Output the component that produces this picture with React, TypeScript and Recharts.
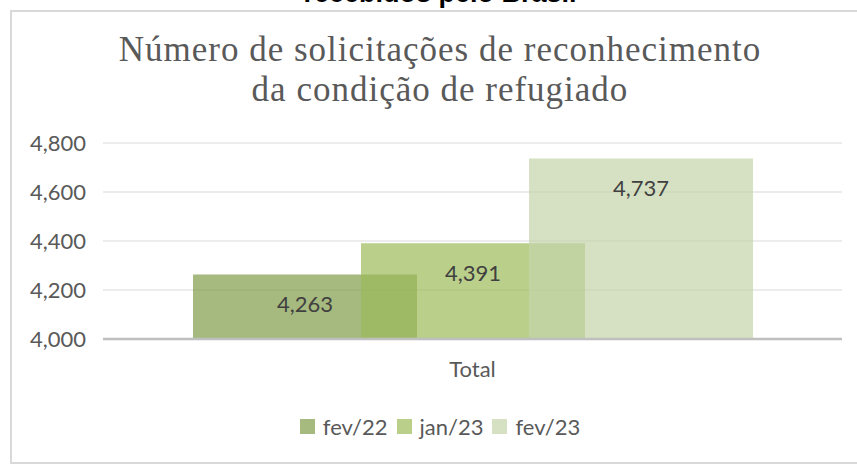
import React from 'react';
import { BarChart, Bar, XAxis, YAxis, CartesianGrid, LabelList } from 'recharts';

const categories = ['Total'];
const seriesNames = ['fev/22', 'jan/23', 'fev/23'];
const fev22Values = [4263];
const jan23Values = [4391];
const fev23Values = [4737];
const yTicks = [4000, 4200, 4400, 4600, 4800];
const seriesColors = ['#809b48', '#9bbb59', '#c4d4a9'];
const seriesKeys = ['fev22', 'jan23', 'fev23'];

const data = categories.map((c, i) => ({
  name: c,
  fev22: fev22Values[i],
  jan23: jan23Values[i],
  fev23: fev23Values[i],
}));

const fmt = (v: number) => Number(v).toLocaleString('en-US');
const FONT = 'Lato, "Noto Sans", sans-serif';

const LegendBox = () => (
  <div style={{ position: 'absolute', left: 0, top: 412, width: 880, height: 28, display: 'flex', justifyContent: 'center', alignItems: 'center', fontFamily: FONT, fontSize: 22, color: '#595959' }}>
    {seriesNames.map((n, i) => (
      <div key={n} style={{ display: 'flex', alignItems: 'center', marginRight: i < 2 ? 9 : 0 }}>
        <div style={{ width: 15, height: 15, background: seriesColors[i], opacity: 0.7, marginRight: 8 }} />
        <span>{n}</span>
      </div>
    ))}
  </div>
);

export default function App() {
  return (
    <div style={{ position: 'absolute', left: 0, top: 0, width: 857, height: 464, overflow: 'hidden', background: '#fff', fontFamily: FONT }}>
      <div style={{ position: 'absolute', left: 0, width: 880, top: -22, textAlign: 'center', fontFamily: '"Liberation Sans", Arial, sans-serif', fontWeight: 'bold', fontSize: 27, lineHeight: '30px', color: '#000' }}>
        recebidos pelo Brasil
      </div>
      <div style={{ position: 'absolute', left: 10, top: 10, width: 860, height: 450, border: '2px solid #d9d9d9', boxSizing: 'content-box' }} />
      <div style={{ position: 'absolute', left: 0, width: 880, top: 30, textAlign: 'center', fontFamily: '"Liberation Serif", serif', fontSize: 35, lineHeight: '40px', color: '#595959', letterSpacing: 1 }}>
        Número de solicitações de reconhecimento<br />da condição de refugiado
      </div>
      <div style={{ position: 'absolute', left: 0, top: 0 }}>
        <BarChart width={857} height={464} data={data} margin={{ top: 143, right: 15, bottom: 95, left: 23 }} barGap={-56} barSize={224}>
          <CartesianGrid vertical={false} stroke="#e6e6e6" strokeWidth={1.5} />
          <XAxis dataKey="name" height={30} tickLine={false} axisLine={{ stroke: '#bfbfbf', strokeWidth: 2.5 }} tickSize={0} tickMargin={22} tick={{ fill: '#595959', fontSize: 22 }} />
          <YAxis domain={[4000, 4800]} ticks={yTicks} tickFormatter={fmt} axisLine={false} tickLine={false} width={80} tickSize={0} tickMargin={17} tick={{ fill: '#595959', fontSize: 22 }} interval={0} />
          {seriesKeys.map((k, i) => (
            <Bar key={k} dataKey={k} name={seriesNames[i]} fill={seriesColors[i]} fillOpacity={0.7} isAnimationActive={false}>
              <LabelList dataKey={k} position="insideTop" offset={22} formatter={fmt} fill="#404040" fontSize={22} />
            </Bar>
          ))}
        </BarChart>
      </div>
      <LegendBox />
    </div>
  );
}
